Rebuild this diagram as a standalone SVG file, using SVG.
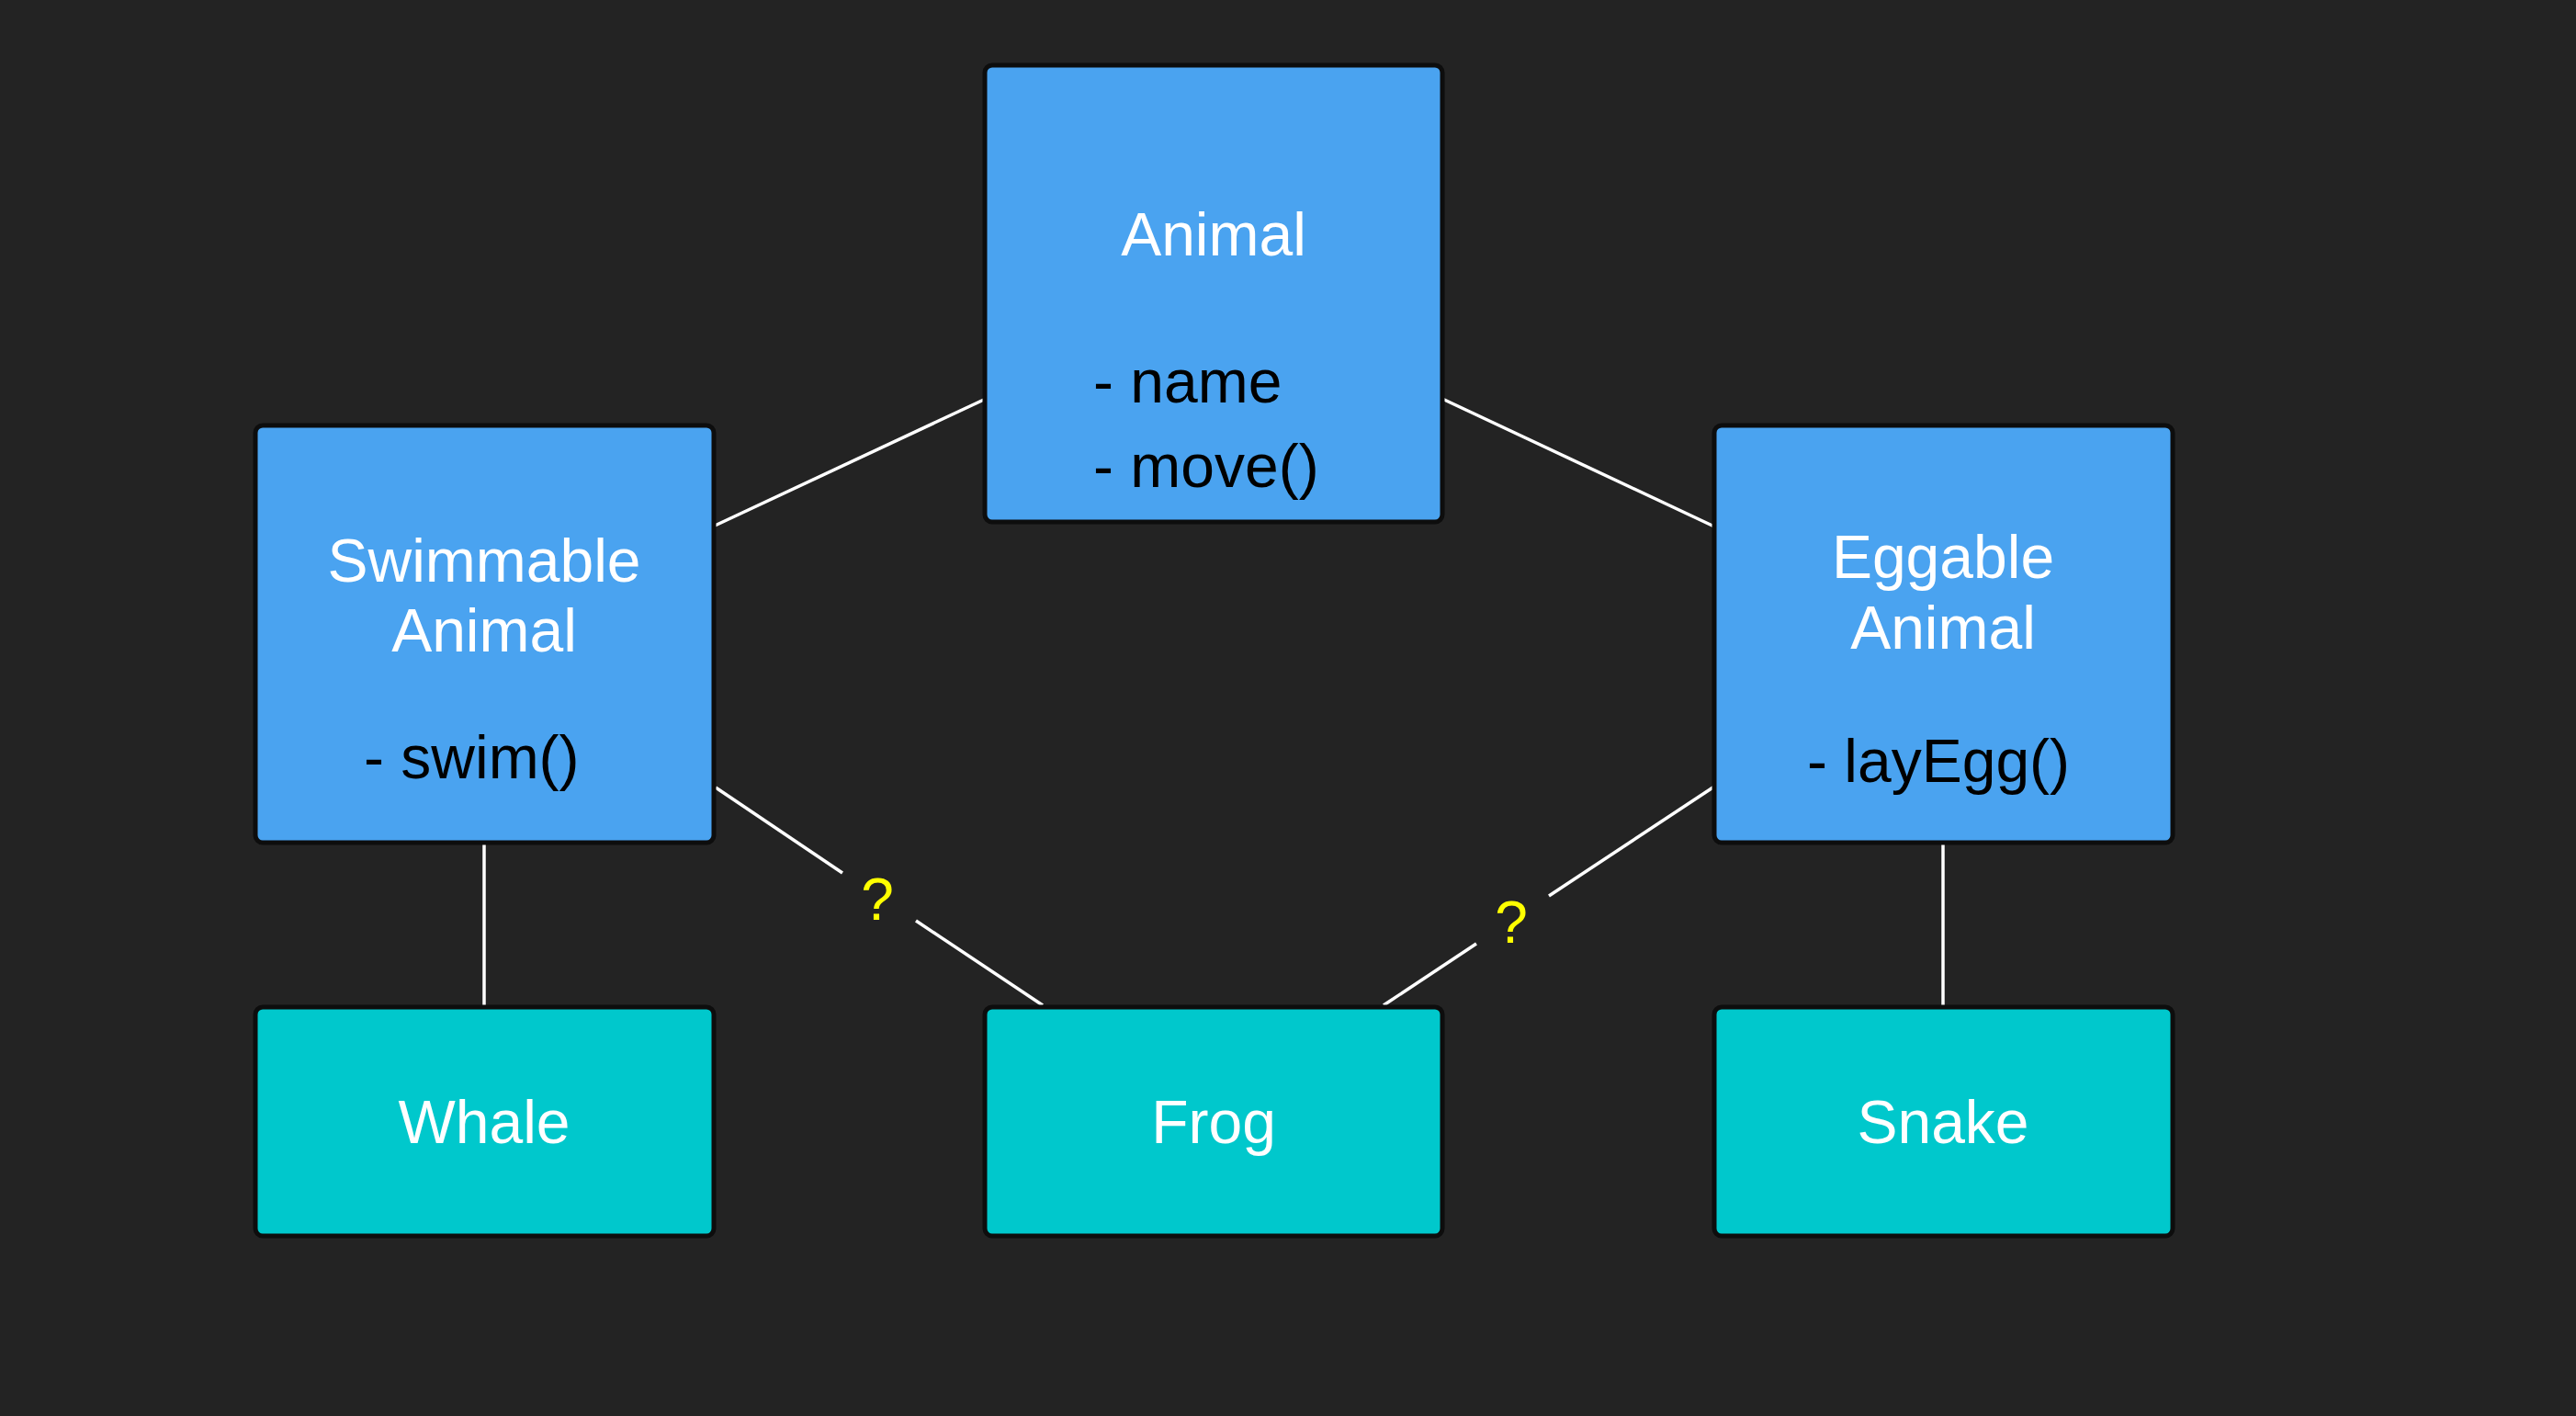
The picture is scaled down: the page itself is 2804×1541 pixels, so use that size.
<svg xmlns="http://www.w3.org/2000/svg" width="2804" height="1541" viewBox="0 0 2804 1541">
<style>
.box{stroke:#0d0d0d;stroke-width:5}
.cls{fill:#4AA3F0}
.obj{fill:#00C8CC}
.t{font-family:"Liberation Sans",Arial,Helvetica,sans-serif;font-size:66px}
.w{fill:#ffffff;text-anchor:middle}
.b{fill:#000000}
.q{fill:#FFFF00;text-anchor:middle;font-size:64px}
.ln{stroke:#ffffff;stroke-width:3.5;fill:none}
</style>
<rect width="2804" height="1541" fill="#232323"/>
<g id="connectors">
<line class="ln" x1="1073" y1="434" x2="776" y2="573"/>
<line class="ln" x1="1570" y1="434" x2="1866" y2="573"/>
<line class="ln" x1="527" y1="917" x2="527" y2="1095"/>
<line class="ln" x1="2115" y1="917" x2="2115" y2="1095"/>
<line class="ln" x1="779" y1="857" x2="917" y2="950"/>
<line class="ln" x1="997" y1="1002" x2="1135" y2="1094"/>
<line class="ln" x1="1866" y1="856" x2="1686" y2="975"/>
<line class="ln" x1="1607" y1="1027" x2="1506" y2="1094"/>
<text class="t q" x="955" y="1001">?</text>
<text class="t q" x="1645" y="1026">?</text>
</g>
<g id="animal">
<rect class="box cls" x="1072" y="71" width="498" height="497" rx="8"/>
<text class="t w" x="1321" y="278">Animal</text>
<text class="t b" x="1190" y="438">- name</text>
<text class="t b" x="1190" y="530">- move()</text>
</g>
<g id="swimmable">
<rect class="box cls" x="278" y="463" width="499" height="454" rx="8"/>
<text class="t w" x="527" y="633">Swimmable</text>
<text class="t w" x="527" y="709">Animal</text>
<text class="t b" x="396" y="847">- swim()</text>
</g>
<g id="eggable">
<rect class="box cls" x="1866" y="463" width="499" height="454" rx="8"/>
<text class="t w" x="2115" y="629">Eggable</text>
<text class="t w" x="2115" y="706">Animal</text>
<text class="t b" x="1967" y="851">- layEgg()</text>
</g>
<g id="whale">
<rect class="box obj" x="278" y="1096" width="499" height="249" rx="8"/>
<text class="t w" x="527" y="1244">Whale</text>
</g>
<g id="frog">
<rect class="box obj" x="1072" y="1096" width="498" height="249" rx="8"/>
<text class="t w" x="1321" y="1244">Frog</text>
</g>
<g id="snake">
<rect class="box obj" x="1866" y="1096" width="499" height="249" rx="8"/>
<text class="t w" x="2115" y="1244">Snake</text>
</g>
</svg>
